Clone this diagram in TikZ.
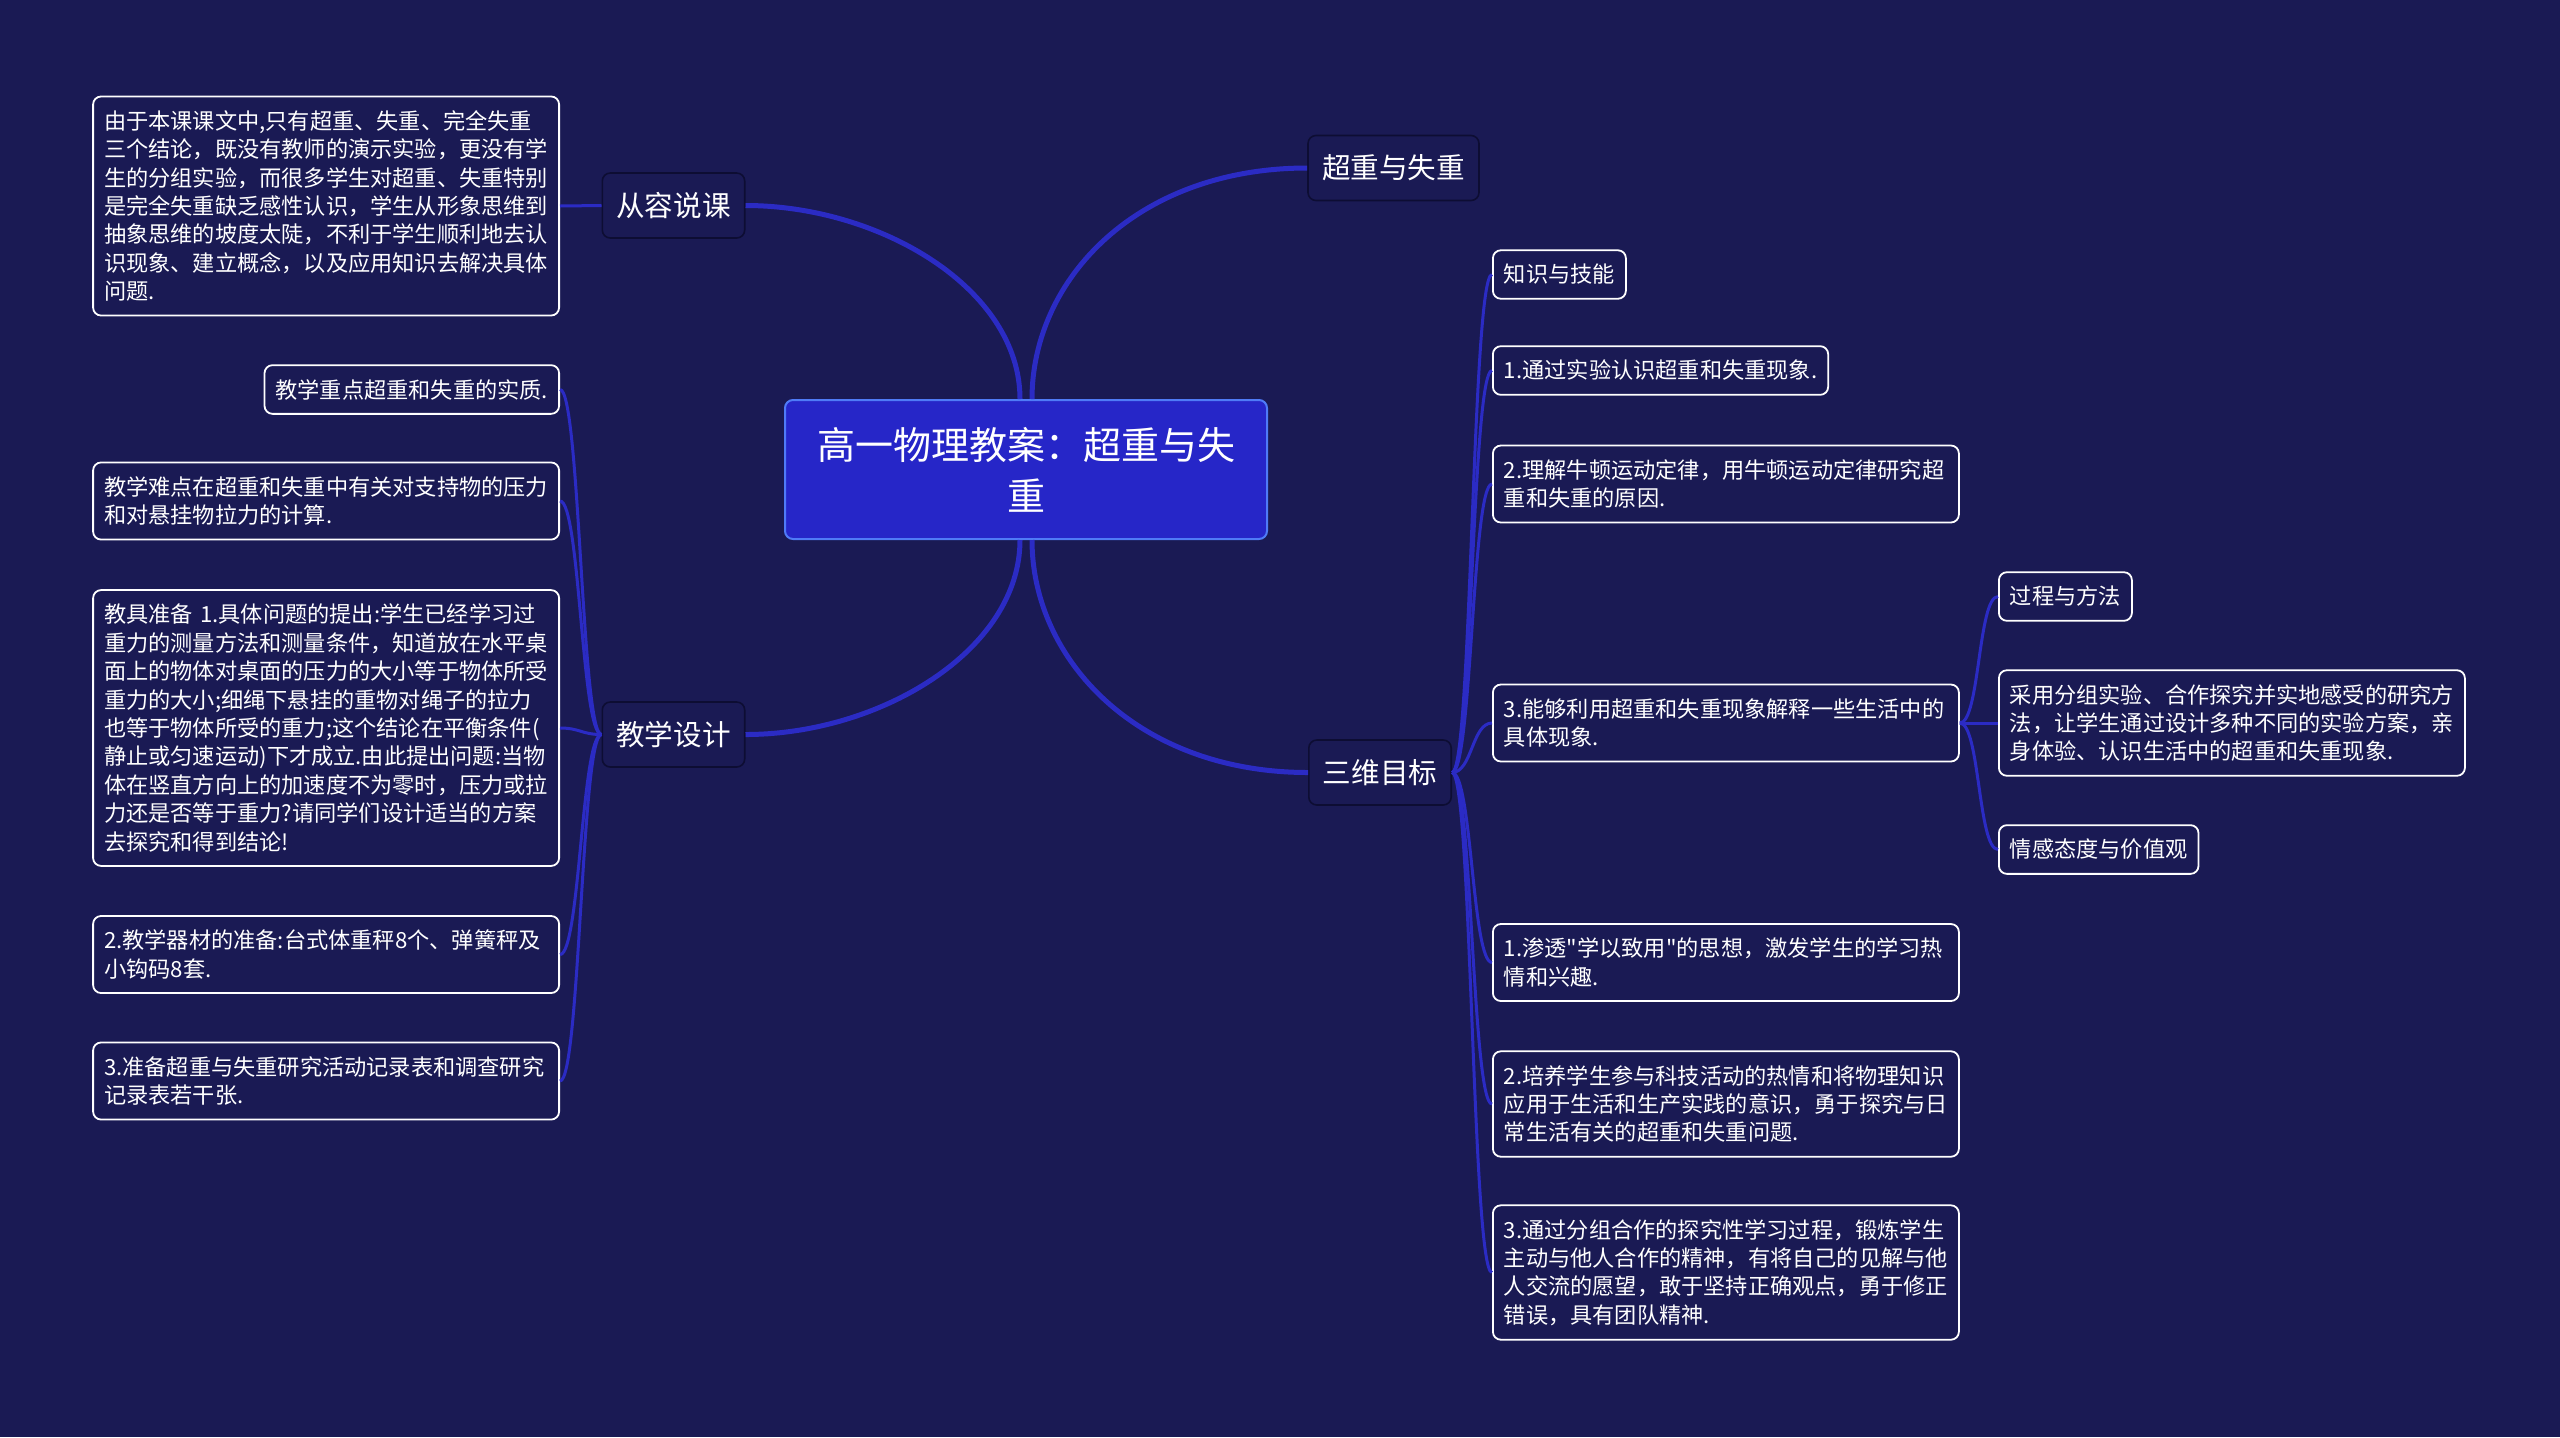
\documentclass[tikz,border=0pt]{standalone}
\usepackage{fontspec}
\setmainfont{Noto Sans CJK SC}[Ligatures=TeXOff]
\usetikzlibrary{positioning}
\definecolor{bgnavy}{HTML}{1A1A54}
\definecolor{linkblue}{HTML}{2B2BC4}
\definecolor{rootblue}{HTML}{2626C8}
\definecolor{rootedge}{HTML}{4F7BF7}
\definecolor{topicedge}{HTML}{0D0D33}

\begin{document}
\begin{tikzpicture}[x=0.5pt,y=-0.5pt,
  every node/.style={text=white},
  root/.style={draw=rootedge,fill=rootblue,line width=1pt,rounded corners=4pt,
    font=\fontsize{19pt}{25.6pt}\selectfont,align=center,text width=215pt,
    minimum width=241pt,minimum height=69.5pt},
  topic/.style={draw=topicedge,fill=bgnavy,line width=0.8pt,rounded corners=4pt,
    font=\fontsize{14.3pt}{17pt}\selectfont,inner xsep=7pt,minimum height=32.5pt},
  leaf/.style={draw=white,fill=bgnavy,line width=0.9pt,rounded corners=4pt,
    font=\fontsize{11.1pt}{14.2pt}\selectfont,align=left,inner xsep=5.5pt,inner ysep=7pt},
  wideleaf/.style={leaf,text width=222pt},
  branch/.style={draw=linkblue,line width=2.5pt},
  twig/.style={draw=linkblue,line width=1.5pt}]
  \fill[bgnavy] (0,0) rectangle (2560,1437);

  % centre and main topics
  \node[root] (root) at (1026,469.5) {高一物理教案：超重与失\\重};
  \node[topic] (talk) at (673.5,205.5) {从容说课};
  \node[topic] (design) at (673.5,734.5) {教学设计};
  \node[topic] (title) at (1393.5,168) {超重与失重};
  \node[topic] (goals) at (1380,772.5) {三维目标};

  % left side
  \node[wideleaf,anchor=east] (why) at (560,206) {由于本课课文中,只有超重、失重、完全失重\\三个结论，既没有教师的演示实验，更没有学\\生的分组实验，而很多学生对超重、失重特别\\是完全失重缺乏感性认识，学生从形象思维到\\抽象思维的坡度太陡，不利于学生顺利地去认\\识现象、建立概念，以及应用知识去解决具体\\问题.};
  \node[leaf,anchor=east] (key) at (560,389.5) {教学重点超重和失重的实质.};
  \node[wideleaf,anchor=east] (hard) at (560,501) {教学难点在超重和失重中有关对支持物的压力\\和对悬挂物拉力的计算.};
  \node[wideleaf,anchor=east] (tools) at (560,728) {教具准备 1.具体问题的提出:学生已经学习过\\重力的测量方法和测量条件，知道放在水平桌\\面上的物体对桌面的压力的大小等于物体所受\\重力的大小;细绳下悬挂的重物对绳子的拉力\\也等于物体所受的重力;这个结论在平衡条件(\\静止或匀速运动)下才成立.由此提出问题:当物\\体在竖直方向上的加速度不为零时，压力或拉\\力还是否等于重力?请同学们设计适当的方案\\去探究和得到结论!};
  \node[wideleaf,anchor=east] (kit) at (560,954.5) {2.教学器材的准备:台式体重秤8个、弹簧秤及\\小钩码8套.};
  \node[wideleaf,anchor=east] (forms) at (560,1081) {3.准备超重与失重研究活动记录表和调查研究\\记录表若干张.};

  % right side
  \node[leaf,anchor=west] (skill) at (1492,274.5) {知识与技能};
  \node[leaf,anchor=west] (aim1) at (1492,370.5) {1.通过实验认识超重和失重现象.};
  \node[wideleaf,anchor=west] (aim2) at (1492,484) {2.理解牛顿运动定律，用牛顿运动定律研究超\\重和失重的原因.};
  \node[wideleaf,anchor=west] (aim3) at (1492,723) {3.能够利用超重和失重现象解释一些生活中的\\具体现象.};
  \node[wideleaf,anchor=west] (feel1) at (1492,962.5) {1.渗透"学以致用"的思想，激发学生的学习热\\情和兴趣.};
  \node[wideleaf,anchor=west] (feel2) at (1492,1104) {2.培养学生参与科技活动的热情和将物理知识\\应用于生活和生产实践的意识，勇于探究与日\\常生活有关的超重和失重问题.};
  \node[wideleaf,anchor=west] (feel3) at (1492,1272.5) {3.通过分组合作的探究性学习过程，锻炼学生\\主动与他人合作的精神，有将自己的见解与他\\人交流的愿望，敢于坚持正确观点，勇于修正\\错误，具有团队精神.};
  \node[leaf,anchor=west] (method) at (1998,596.5) {过程与方法};
  \node[wideleaf,anchor=west] (group) at (1998,723) {采用分组实验、合作探究并实地感受的研究方\\法，让学生通过设计多种不同的实验方案，亲\\身体验、认识生活中的超重和失重现象.};
  \node[leaf,anchor=west] (value) at (1998,849.5) {情感态度与价值观};

  % connectors
  \coordinate (rootnl) at ([xshift=-3pt]root.north);
  \coordinate (rootnr) at ([xshift=3pt]root.north);
  \coordinate (rootsl) at ([xshift=-3pt]root.south);
  \coordinate (rootsr) at ([xshift=3pt]root.south);
  \draw[branch] (rootnl) .. controls +(0,-110) and +(135,0) .. (talk.east);
  \draw[branch] (rootnr) .. controls +(0,-120) and +(-170,0) .. (title.west);
  \draw[branch] (rootsl) .. controls +(0,110) and +(135,0) .. (design.east);
  \draw[branch] (rootsr) .. controls +(0,120) and +(-170,0) .. (goals.west);
  \draw[twig] (talk.west) -- (why.east);
  \foreach \n in {key,hard,tools,kit,forms}
    \draw[twig] (design.west) .. controls +(-20,0) and +(20,0) .. (\n.east);
  \foreach \n in {skill,aim1,aim2,aim3,feel1,feel2,feel3}
    \draw[twig] (goals.east) .. controls +(20,0) and +(-20,0) .. (\n.west);
  \foreach \n in {method,group,value}
    \draw[twig] (aim3.east) .. controls +(20,0) and +(-20,0) .. (\n.west);
\end{tikzpicture}
\end{document}
